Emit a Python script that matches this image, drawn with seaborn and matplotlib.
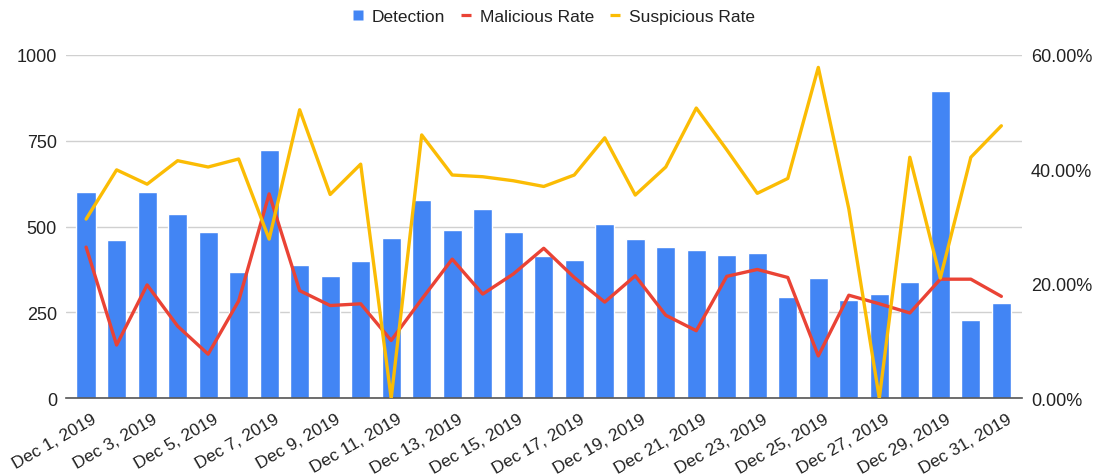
import matplotlib
matplotlib.use("Agg")
import matplotlib.pyplot as plt
import seaborn as sns
import numpy as np
import pandas as pd
from matplotlib.lines import Line2D
from matplotlib.ticker import FuncFormatter
from matplotlib.transforms import ScaledTranslation

days = list(range(1, 32))
dates = [f"Dec {d}, 2019" for d in days]
detection = [601, 461, 601, 536, 485, 368, 722, 389, 355, 400,
             466, 577, 490, 551, 483, 413, 403, 506, 464, 440,
             433, 417, 422, 296, 350, 287, 303, 338, 895, 228, 276]
malicious_rate = [26.4, 9.3, 19.8, 12.6, 7.7, 17.0, 35.7, 18.8, 16.2, 16.5,
                  10.1, 17.3, 24.3, 18.2, 21.7, 26.2, 21.1, 16.8, 21.4, 14.5,
                  11.8, 21.3, 22.5, 21.1, 7.4, 18.0, 16.5, 14.9, 20.8, 20.8, 17.8]
suspicious_rate = [31.3, 39.9, 37.4, 41.5, 40.4, 41.8, 27.8, 50.4, 35.6, 40.9,
                   0.0, 46.0, 39.0, 38.7, 38.0, 37.0, 39.0, 45.5, 35.5, 40.4,
                   50.7, 43.4, 35.8, 38.4, 57.8, 33.1, 0.0, 42.1, 21.0, 42.1, 47.6]

BLUE = "#4285F4"
RED = "#EA4335"
YELLOW = "#FBBC04"
TXT = "#222222"

sns.set_theme(style="white")
plt.rcParams['font.family'] = ['Liberation Sans', 'DejaVu Sans']

df = pd.DataFrame({
    "date": dates,
    "idx": np.arange(len(dates)),
    "detection": detection,
    "malicious": np.array(malicious_rate) / 100.0,
    "suspicious": np.array(suspicious_rate) / 100.0,
})

fig = plt.figure(figsize=(10.94, 4.77), dpi=100)
ax = fig.add_axes([0.0603, 0.163, 0.8737, 0.720])

sns.barplot(data=df, x="idx", y="detection", color=BLUE, saturation=1,
            width=0.63, ax=ax, native_scale=True, zorder=2)
ax.set_xlim(-0.66, 30.67)
ax.set_ylim(0, 1000)
ax.set_yticks([0, 250, 500, 750, 1000])
ax.yaxis.grid(True, color="#d0d0d0", linewidth=1, zorder=0)
ax.set_axisbelow(True)
ax.xaxis.grid(False)
for s in ["top", "right", "left"]:
    ax.spines[s].set_visible(False)
ax.spines["bottom"].set_color("#555555")
ax.spines["bottom"].set_linewidth(1.2)
ax.spines["bottom"].set_zorder(5)
ax.set_xlabel("")
ax.set_ylabel("")
ax.set_xticks(list(range(0, 31, 2)))
ax.set_xticklabels([dates[i] for i in range(0, 31, 2)], rotation=30,
                   ha="right", rotation_mode="anchor", fontsize=12.5, color=TXT)
ax.tick_params(axis="x", length=0, pad=9)
ax.tick_params(axis="y", length=0, pad=6.5, labelsize=13, labelcolor=TXT)
shift = ScaledTranslation(5 / 100, 0, fig.dpi_scale_trans)
for lab in ax.get_xticklabels():
    lab.set_transform(lab.get_transform() + shift)

ax2 = ax.twinx()
sns.lineplot(data=df, x="idx", y="malicious", color=RED, linewidth=2.4,
             ax=ax2, zorder=3)
sns.lineplot(data=df, x="idx", y="suspicious", color=YELLOW, linewidth=2.4,
             ax=ax2, zorder=4)
ax2.set_ylim(0, 0.6)
ax2.set_xlim(-0.66, 30.67)
ax2.set_yticks([0, 0.2, 0.4, 0.6])
ax2.yaxis.set_major_formatter(FuncFormatter(lambda v, p: f"{v*100:.2f}%"))
ax2.tick_params(axis="y", length=0, pad=6.5, labelsize=13, labelcolor=TXT)
ax2.set_ylabel("")
ax2.set_xlabel("")
ax2.grid(False)
for s in ["top", "right", "left", "bottom"]:
    ax2.spines[s].set_visible(False)

handles = [Line2D([], [], linestyle="none", marker="s", markersize=7.5,
                  markerfacecolor=BLUE, markeredgecolor="none"),
           Line2D([], [], color=RED, linewidth=2.3, solid_capstyle="butt"),
           Line2D([], [], color=YELLOW, linewidth=2.3, solid_capstyle="butt")]
labels = ["Detection", "Malicious Rate", "Suspicious Rate"]
fig.legend(handles, labels, loc="center", bbox_to_anchor=(0.506, 0.964),
           ncol=3, frameon=False, fontsize=12.5, handlelength=0.6,
           handletextpad=0.5, columnspacing=0.9, labelcolor=TXT)

fig.savefig("out.png", dpi=100)
